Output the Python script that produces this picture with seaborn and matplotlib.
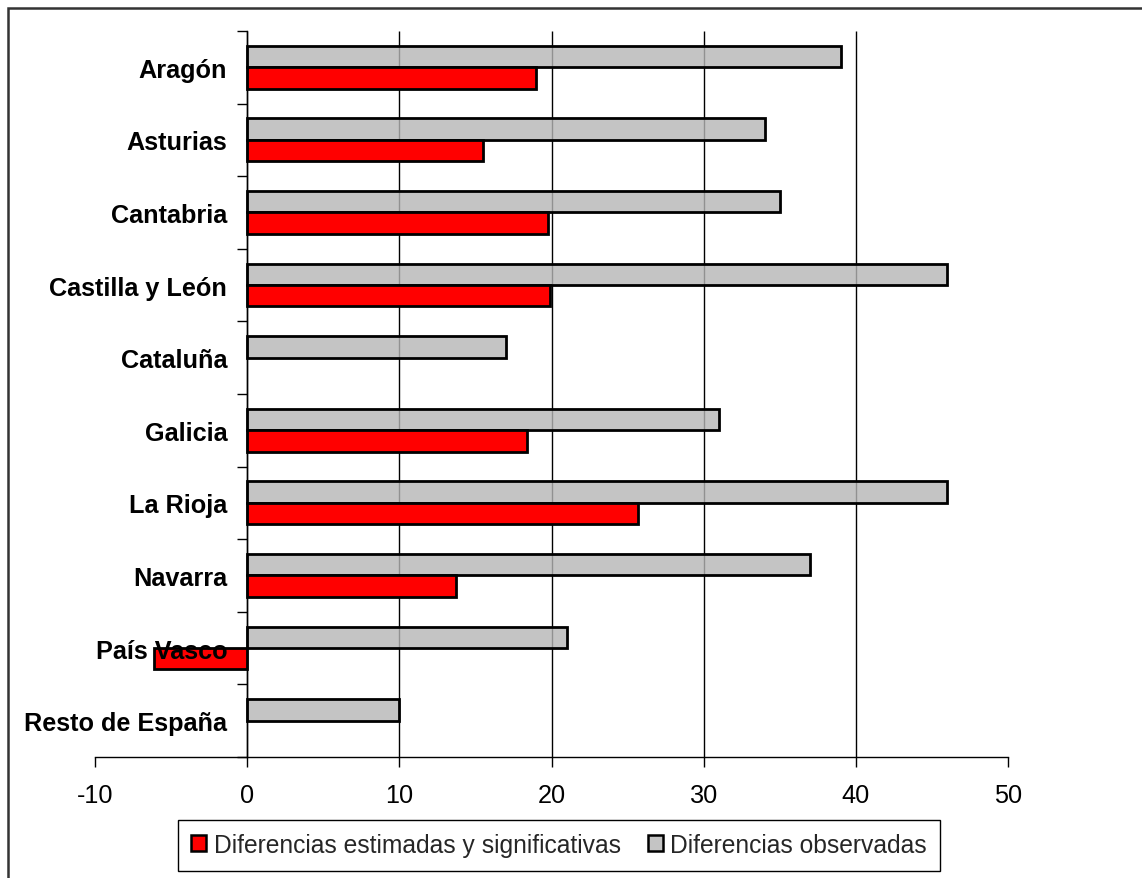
import numpy as np
import pandas as pd
import seaborn as sns
import matplotlib.pyplot as plt
from matplotlib.patches import Patch, Rectangle

# ---- data ----
regions = ["Aragón", "Asturias", "Cantabria", "Castilla y León", "Cataluña",
           "Galicia", "La Rioja", "Navarra", "País Vasco", "Resto de España"]
observed = [39, 34, 35, 46, 17, 31, 46, 37, 21, 10]
estimated = [19, 15.5, 19.8, 19.9, np.nan, 18.4, 25.7, 13.7, -6.1, np.nan]
est_label = "Diferencias estimadas y significativas"
obs_label = "Diferencias observadas"
xticks = [-10, 0, 10, 20, 30, 40, 50]

sns.set_style("white")
plt.rcParams["font.family"] = ["Liberation Sans", "DejaVu Sans"]
plt.rcParams["axes.unicode_minus"] = False

FS = 18.2
LFS = 17.7

fig = plt.figure(figsize=(11.42, 8.79), dpi=100)
ax = fig.add_axes([0.0832, 0.1377, 0.7995, 0.8259])

df = pd.DataFrame({"Region": regions, obs_label: observed, est_label: estimated})
long = df.melt(id_vars="Region", var_name="Serie", value_name="Valor")

red = "#FF0000"
gray_face = (0.7125, 0.7125, 0.7125, 0.8)
gray_legend = (0.77, 0.77, 0.77)

sns.barplot(data=long, y="Region", x="Valor", hue="Serie",
            hue_order=[obs_label, est_label], order=regions,
            palette={obs_label: gray_legend, est_label: red},
            orient="h", width=0.59, edgecolor="black", linewidth=2.0,
            saturation=1, errorbar=None, legend=False, ax=ax)

for bar in ax.containers[0]:
    bar.set_facecolor(gray_face)

ax.set_xlim(xticks[0], xticks[-1])
ax.set_xticks(xticks)
ax.set_xlabel("")
ax.set_ylabel("")

# gridlines at inner ticks
ax.vlines(xticks[1:-1], -0.5, len(regions) - 0.5, colors="black", linewidth=1, zorder=0.5)
ax.set_ylim(len(regions) - 0.5, -0.5)

for s in ["top", "right"]:
    ax.spines[s].set_visible(False)
ax.spines["left"].set_position(("data", 0))
for s in ["left", "bottom"]:
    ax.spines[s].set_color("black")
    ax.spines[s].set_linewidth(1)

ax.tick_params(axis="x", bottom=True, direction="out", length=7, width=1,
               color="black", labelsize=FS, pad=12, labelcolor="black")
ax.tick_params(axis="y", which="major", left=True, length=0, pad=14.4,
               labelsize=FS, labelcolor="black")
ax.set_yticks(np.arange(-0.5, len(regions), 1), minor=True)
ax.tick_params(axis="y", which="minor", left=True, direction="out", length=7,
               width=1, color="black")
for lab in ax.get_yticklabels():
    lab.set_fontweight("bold")
ax.yaxis.set_zorder(5)

handles = [Patch(facecolor=red, edgecolor="black", linewidth=1.8, label=est_label),
           Patch(facecolor=gray_legend, edgecolor="black", linewidth=1.8, label=obs_label)]
leg = fig.legend(handles=handles, loc="center", bbox_to_anchor=(0.4895, 0.0375),
                 ncol=2, frameon=True, fancybox=False, edgecolor="black",
                 fontsize=LFS, handlelength=0.62, handleheight=0.62,
                 handletextpad=0.3, columnspacing=1.1, borderpad=0.55,
                 borderaxespad=0)
leg.get_frame().set_linewidth(1)
leg.get_frame().set_alpha(1)

fig.add_artist(Rectangle((0.007, -0.5), 2, 0.5 + 0.98976, transform=fig.transFigure,
                         fill=False, edgecolor="#333333", linewidth=1.8, clip_on=False))

fig.savefig("out.png", dpi=100)
